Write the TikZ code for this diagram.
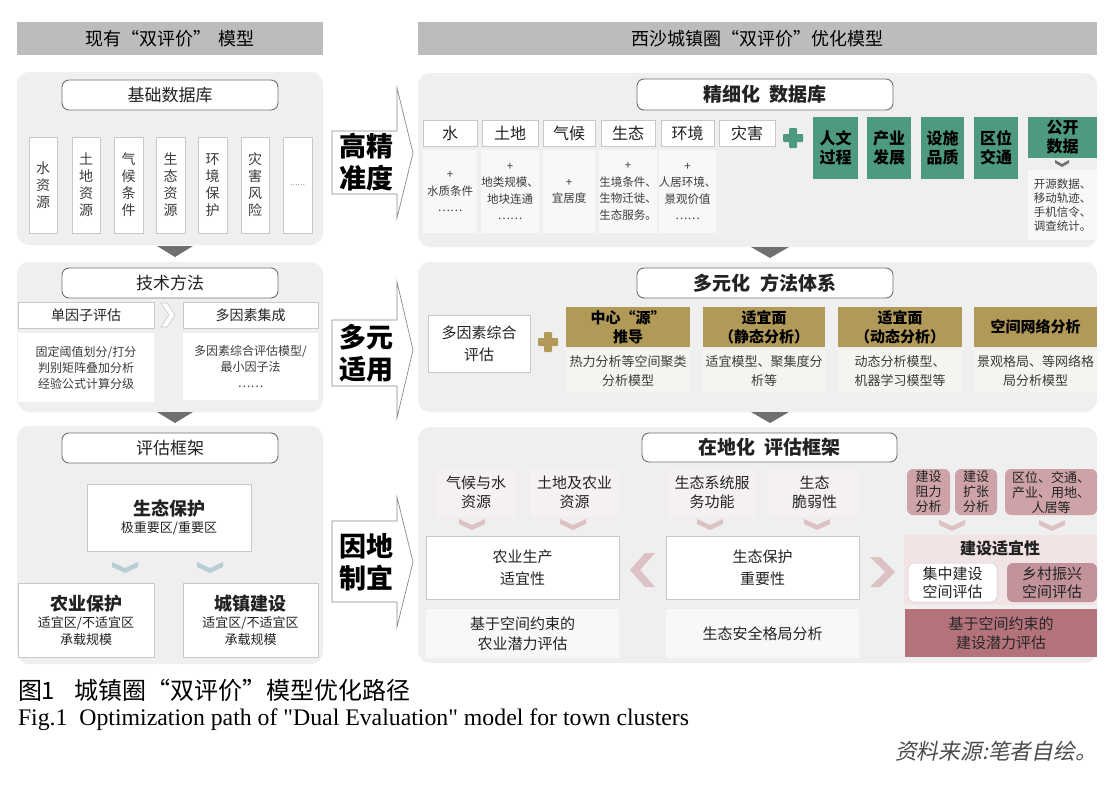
\documentclass[tikz,border=0pt]{standalone}
\usepackage{fontspec}
\setmainfont{Noto Sans CJK SC}
\newfontfamily\figfont{Liberation Serif}
\newfontfamily\srcfont[FakeSlant=0.2]{Noto Sans CJK SC}
\definecolor{hdrgray}{HTML}{BCBCBC}
\definecolor{panelgray}{HTML}{EFEFEF}
\definecolor{trigray}{HTML}{6F6F6F}
\definecolor{ttlborder}{HTML}{707070}
\definecolor{lborder}{HTML}{C8C8C8}
\definecolor{txt}{HTML}{222222}
\definecolor{txtgray}{HTML}{3C3C3C}
\definecolor{softw}{HTML}{F8F8F8}
\definecolor{greenbox}{HTML}{4E9A81}
\definecolor{goldbox}{HTML}{B19A57}
\definecolor{cream}{HTML}{F6F4EE}
\definecolor{pinksoft}{HTML}{F6F1F1}
\definecolor{pinksmall}{HTML}{CDA3A8}
\definecolor{pinkmid}{HTML}{C2939A}
\definecolor{pinkdark}{HTML}{B4727B}
\definecolor{pinklight}{HTML}{F2E3E4}
\definecolor{chevpink}{HTML}{DCC2C5}
\definecolor{chevblue}{HTML}{B9CDD5}
\definecolor{arrowline}{HTML}{8A8A8A}
\newcommand\fs[2]{\fontsize{#1}{#2}\selectfont}
\newcommand\bn[7]{\node[#2,minimum width={#5-#3},minimum height={#6-#4}] (#1) at ({(#3+#5)/2},{(#4+#6)/2}) {#7};}
\newcommand\chevdn[3]{\fill[#3] (#1-13,#2-5) -- (#1,#2+1) -- (#1+13,#2-5) -- (#1+13,#2) -- (#1,#2+6) -- (#1-13,#2) -- cycle;}
\begin{document}
\begin{tikzpicture}[x=1pt,y=-1pt,
 bs/.style={inner sep=0pt,outer sep=0pt,align=center,text=txt},
 hdr/.style={bs,fill=hdrgray,font=\fs{18}{22},text=black},
 panel/.style={bs,fill=panelgray,rounded corners=12pt},
 ttl/.style={bs,fill=white,draw=ttlborder,line width=0.9pt,rounded corners=7pt,font=\fs{17}{20}},
 ttlb/.style={ttl,font=\fs{19}{22}\bfseries},
 vbox/.style={bs,fill=white,draw=lborder,line width=0.6pt,font=\fs{14}{17},text=txtgray},
 wbox/.style={bs,fill=white,draw=lborder,line width=0.6pt},
 lowbox/.style={bs,fill=white,font=\fs{12}{16},text=txtgray},
 colhead/.style={bs,fill=white,draw=lborder,line width=0.6pt,font=\fs{16}{19}},
 colbody/.style={bs,fill=softw,font=\fs{11.5}{16.5},text=txtgray},
 grn/.style={bs,fill=greenbox,font=\fs{16}{19}\bfseries,text=black},
 gld/.style={bs,fill=goldbox,font=\fs{15}{19}\bfseries,text=black},
 crm/.style={bs,fill=cream,font=\fs{13}{19},text=txtgray},
 softbx/.style={bs,fill=pinksoft,rounded corners=6pt,font=\fs{15}{19}},
 lightbx/.style={bs,fill=softw,font=\fs{15}{20}},
 blockarrow/.style={fill=white,draw=arrowline,line width=0.7pt},
 bigtxt/.style={bs,font=\fs{27}{32}\bfseries,text=black},
]
\useasboundingbox[fill=white] (0,0) rectangle (1118,787);

% headers
\bn{hL}{hdr}{17}{22}{323}{55}{现有“双评价”\hspace{0.4em}模型}
\bn{hR}{hdr}{418}{22}{1097}{55}{西沙城镇圈“双评价”优化模型}

% ---------- left panel 1
\bn{pL1}{panel}{17}{72}{323}{245}{}
\bn{tL1}{ttl}{62}{80}{278}{110}{基础数据库}
\bn{v1}{vbox}{29}{137}{57}{233}{水\\资\\源}
\bn{v2}{vbox}{72}{137}{100}{233}{土\\地\\资\\源}
\bn{v3}{vbox}{114}{137}{143}{233}{气\\候\\条\\件}
\bn{v4}{vbox}{156}{137}{185}{233}{生\\态\\资\\源}
\bn{v5}{vbox}{198}{137}{227}{233}{环\\境\\保\\护}
\bn{v6}{vbox}{241}{137}{269}{233}{灾\\害\\风\\险}
\bn{v7}{vbox,font=\fs{7}{8}}{283}{137}{312}{233}{……}
\fill[trigray] (157,246) -- (193,246) -- (175,257) -- cycle;

% ---------- left panel 2
\bn{pL2}{panel}{17}{262}{323}{412}{}
\bn{tL2}{ttl}{62}{268}{278}{298}{技术方法}
\bn{sf}{wbox,font=\fs{14}{17}}{18}{302}{154}{328}{单因子评估}
\bn{mf}{wbox,font=\fs{14}{17}}{183}{302}{318}{328}{多因素集成}
\draw[lborder,fill=white,line width=0.6pt] (161,303) -- (167,303) -- (175,315) -- (167,327) -- (161,327) -- (169,315) -- cycle;
\bn{sfb}{lowbox}{18}{333}{154}{402}{固定阈值划分/打分\\判别矩阵叠加分析\\经验公式计算分级}
\bn{mfb}{lowbox}{183}{333}{318}{400}{多因素综合评估模型/\\最小因子法\\……}
\fill[trigray] (157,412) -- (193,412) -- (175,423) -- cycle;

% ---------- left panel 3
\bn{pL3}{panel}{17}{426}{323}{664}{}
\bn{tL3}{ttl}{62}{433}{278}{463}{评估框架}
\bn{eco}{wbox,font=\fs{13}{17}}{87}{484}{251}{551}{{\fs{18}{22}\bfseries 生态保护}\\极重要区/重要区}
\chevdn{125}{567}{chevblue}
\chevdn{210}{567}{chevblue}
\bn{agr}{wbox,font=\fs{13}{17}}{18}{583}{154}{657}{{\fs{18}{22}\bfseries 农业保护}\\适宜区/不适宜区\\承载规模}
\bn{urb}{wbox,font=\fs{13}{17}}{183}{583}{318}{657}{{\fs{18}{22}\bfseries 城镇建设}\\适宜区/不适宜区\\承载规模}

% ---------- block arrows
\draw[blockarrow] (332,131) -- (397,131) -- (397,88) -- (413,153) -- (397,218) -- (397,194) -- (332,194) -- cycle;
\node[bigtxt] (a1) at (366,162) {高精\\准度};
\draw[blockarrow] (332,320) -- (397,320) -- (397,282) -- (413,350) -- (397,418) -- (397,386) -- (332,386) -- cycle;
\node[bigtxt] (a2) at (366,353) {多元\\适用};
\draw[blockarrow] (332,521) -- (397,521) -- (397,497) -- (413,562) -- (397,627) -- (397,602) -- (332,602) -- cycle;
\node[bigtxt] (a3) at (366,562) {因地\\制宜};

% ---------- right panel 1
\bn{pR1}{panel}{418}{73}{1097}{247}{}
\bn{tR1}{ttlb}{637}{79}{893}{110}{精细化\hspace{0.5em}数据库}
\bn{c1}{colhead}{423}{120}{477}{146}{水}
\bn{c2}{colhead}{482}{120}{538}{146}{土地}
\bn{c3}{colhead}{543}{120}{595}{146}{气候}
\bn{c4}{colhead}{601}{120}{655}{146}{生态}
\bn{c5}{colhead}{661}{120}{714}{146}{环境}
\bn{c6}{colhead}{719}{120}{775}{146}{灾害}
\bn{d1}{colbody}{423}{150}{477}{233}{+\\水质条件\\……}
\bn{d2}{colbody}{482}{150}{538}{233}{+\\地类规模、\\地块连通\\……}
\bn{d3}{colbody}{543}{150}{595}{233}{+\\宜居度}
\bn{d4}{colbody}{601}{150}{655}{233}{+\\生境条件、\\生物迁徙、\\生态服务。}
\bn{d5}{colbody}{661}{150}{714}{233}{+\\人居环境、\\景观价值\\……}
\fill[greenbox,rounded corners=1pt] (783,134) rectangle (803,142);
\fill[greenbox,rounded corners=1pt] (789,128) rectangle (797,148);
\bn{g1}{grn}{813}{117}{858}{179}{人文\\过程}
\bn{g2}{grn}{867}{117}{911}{179}{产业\\发展}
\bn{g3}{grn}{921}{117}{964}{179}{设施\\品质}
\bn{g4}{grn}{974}{117}{1018}{179}{区位\\交通}
\bn{g5}{grn}{1028}{117}{1097}{158}{公开\\数据}
\fill[trigray] (1055,160) -- (1062,164) -- (1069,160) -- (1069,163) -- (1062,167) -- (1055,163) -- cycle;
\bn{od}{colbody,fill=softw,font=\fs{11.5}{14}}{1028}{170}{1097}{240}{开源数据、\\移动轨迹、\\手机信令、\\调查统计。}
\fill[trigray] (751,247) -- (789,247) -- (770,258) -- cycle;

% ---------- right panel 2
\bn{pR2}{panel}{418}{262}{1097}{412}{}
\bn{tR2}{ttlb}{637}{268}{893}{298}{多元化\hspace{0.5em}方法体系}
\bn{mi}{wbox,font=\fs{15}{22}}{428}{315}{530}{372}{多因素综合\\评估}
\fill[goldbox,rounded corners=1pt] (538,338) rectangle (558,346);
\fill[goldbox,rounded corners=1pt] (544,332) rectangle (552,352);
\bn{m1}{gld}{566}{307}{690}{347}{中心“源”\\推导}
\bn{m2}{gld}{703}{307}{825}{347}{适宜面\\（静态分析）}
\bn{m3}{gld}{838}{307}{962}{347}{适宜面\\（动态分析）}
\bn{m4}{gld}{974}{307}{1097}{347}{空间网络分析}
\bn{n1}{crm}{566}{350}{690}{392}{热力分析等空间聚类\\分析模型}
\bn{n2}{crm}{703}{350}{825}{392}{适宜模型、聚集度分\\析等}
\bn{n3}{crm}{838}{350}{962}{392}{动态分析模型、\\机器学习模型等}
\bn{n4}{crm}{974}{350}{1097}{392}{景观格局、等网络格\\局分析模型}
\fill[trigray] (751,412) -- (789,412) -- (770,423) -- cycle;

% ---------- right panel 3
\bn{pR3}{panel}{418}{427}{1097}{663}{}
\bn{tR3}{ttlb}{642}{433}{897}{462}{在地化\hspace{0.5em}评估框架}
\bn{s1}{softbx}{435}{468}{517}{517}{气候与水\\资源}
\bn{s2}{softbx}{530}{468}{619}{517}{土地及农业\\资源}
\bn{s3}{softbx}{667}{468}{757}{517}{生态系统服\\务功能}
\bn{s4}{softbx}{769}{468}{860}{517}{生态\\脆弱性}
\chevdn{472}{524}{chevpink}
\chevdn{573}{524}{chevpink}
\chevdn{710}{524}{chevpink}
\chevdn{817}{524}{chevpink}
\bn{ap}{wbox,font=\fs{15}{22}}{426}{536}{619}{599}{农业生产\\适宜性}
\bn{ei}{wbox,font=\fs{15}{22}}{666}{536}{859}{599}{生态保护\\重要性}
\fill[chevpink] (655,553) -- (645,553) -- (630,570) -- (645,587) -- (655,587) -- (640,570) -- cycle;
\fill[chevpink] (870,557) -- (880,557) -- (895,572) -- (880,587) -- (870,587) -- (885,572) -- cycle;
\bn{ape}{lightbx}{426}{609}{619}{658}{基于空间约束的\\农业潜力评估}
\bn{esp}{lightbx}{666}{609}{859}{658}{生态安全格局分析}
\bn{b1}{bs,fill=pinksmall,rounded corners=6pt,font=\fs{13}{15}}{907}{469}{950}{515}{建设\\阻力\\分析}
\bn{b2}{bs,fill=pinksmall,rounded corners=6pt,font=\fs{13}{15}}{955}{469}{997}{515}{建设\\扩张\\分析}
\bn{b3}{bs,fill=pinksmall,rounded corners=6pt,font=\fs{13}{15}}{1005}{469}{1097}{515}{区位、交通、\\产业、用地、\\人居等}
\chevdn{952}{525}{chevpink}
\chevdn{1052}{525}{chevpink}
\bn{cs}{bs,fill=pinklight}{904}{535}{1097}{605}{}
\node[bs,font=\fs{16}{19}\bfseries] (cst) at (1000,548) {建设适宜性};
\bn{cc}{bs,fill=white,draw=lborder,line width=0.5pt,rounded corners=6pt,font=\fs{15}{18}}{908}{563}{997}{602}{集中建设\\空间评估}
\bn{rr}{bs,fill=pinkmid,rounded corners=6pt,font=\fs{15}{18}}{1007}{563}{1097}{602}{乡村振兴\\空间评估}
\bn{cp}{bs,fill=pinkdark,font=\fs{15}{19},text=black!85}{905}{609}{1097}{657}{基于空间约束的\\建设潜力评估}

% ---------- captions
\node[bs,anchor=west,text=black] (cap1) at (18,690) {\resizebox{392pt}{!}{\fs{22}{24}图1\hspace{0.8em}城镇圈“双评价”模型优化路径}};
\node[bs,anchor=west,text=black] (cap2) at (18,720) {\resizebox{671pt}{!}{\figfont\fs{20}{22}Fig.1\hspace{0.5em}Optimization path of "Dual Evaluation" model for town clusters}};
\node[bs,anchor=east,text=black!70] (src) at (1097,751) {\resizebox{202pt}{!}{\srcfont\fs{19}{21}资料来源:笔者自绘。}};
\end{tikzpicture}
\end{document}
